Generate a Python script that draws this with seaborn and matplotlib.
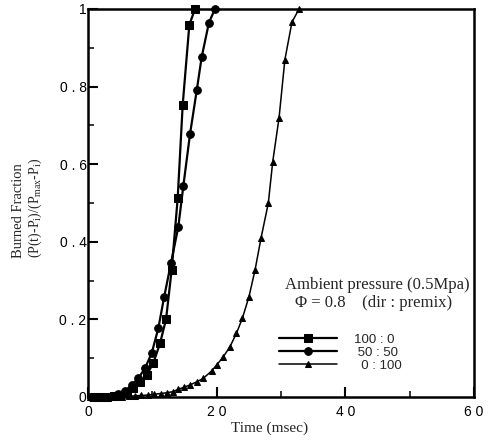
import matplotlib
matplotlib.use("Agg")
import matplotlib.pyplot as plt
from matplotlib.ticker import MultipleLocator, FixedLocator
import seaborn as sns
import pandas as pd

# ---- data ----
t_sq = [0.9, 2.0, 3.0, 4.0, 5.0, 6.0, 7.04, 8.08, 9.12, 10.15, 11.19, 12.13, 13.0, 13.94, 14.72, 15.75, 16.63]
f_sq = [0.0, 0.0, 0.0, 0.002, 0.006, 0.012, 0.022, 0.039, 0.057, 0.087, 0.138, 0.200, 0.327, 0.512, 0.753, 0.959, 1.0]

t_ci = [0.5, 1.6, 2.6, 3.7, 4.7, 5.8, 6.79, 7.82, 8.86, 9.90, 10.93, 11.85, 12.9, 14.04, 14.82, 15.86, 16.9, 17.67, 18.8, 19.74]
f_ci = [0.0, 0.0, 0.001, 0.003, 0.007, 0.016, 0.031, 0.048, 0.074, 0.113, 0.177, 0.259, 0.345, 0.439, 0.544, 0.678, 0.79, 0.876, 0.965, 1.0]

t_tr = [0.3, 1.3, 2.3, 3.3, 4.3, 5.3, 6.3, 7.3, 8.3, 9.3, 10.3, 11.3, 12.3, 13.26, 14.04, 14.92, 15.85, 16.89, 17.92,
        19.2, 19.98, 21.0, 22.05, 23.07, 24.0, 25.03, 25.96, 26.89, 28.03, 28.71, 29.7, 30.6, 31.7, 32.8]
f_tr = [0.0, 0.0, 0.0, 0.0, 0.0, 0.001, 0.002, 0.003, 0.004, 0.005, 0.007, 0.009, 0.011, 0.014, 0.020, 0.025, 0.031, 0.039, 0.048,
        0.067, 0.082, 0.103, 0.129, 0.164, 0.203, 0.259, 0.327, 0.409, 0.50, 0.606, 0.72, 0.869, 0.966, 1.0]

labels = ["100 : 0", " 50 : 50", "  0 : 100"]
x_ticks = [0, 20, 40, 60]
x_ticklabels = ["0", "2 0", "4 0", "6 0"]
y_ticks = [0, 0.2, 0.4, 0.6, 0.8, 1.0]
y_ticklabels = ["0", "0 . 2", "0 . 4", "0 . 6", "0 . 8", "1"]

sns.set_style("ticks")
plt.rcParams["font.family"] = ["Liberation Sans", "DejaVu Sans"]
plt.rcParams["mathtext.fontset"] = "custom"
plt.rcParams["mathtext.rm"] = "Liberation Serif"
plt.rcParams["mathtext.it"] = "Liberation Serif:italic"

fig = plt.figure(figsize=(4.93, 4.42), dpi=100)
ax = fig.add_axes([88/493, 1-397/442, (474-88)/493, (397-9)/442])

df_sq = pd.DataFrame({"t": t_sq, "f": f_sq})
df_ci = pd.DataFrame({"t": t_ci, "f": f_ci})
df_tr = pd.DataFrame({"t": t_tr, "f": f_tr})

sns.lineplot(data=df_sq, x="t", y="f", ax=ax, color="black", lw=1.6, marker="s", markersize=5.5,
             markeredgecolor="black", label=labels[0], clip_on=False, sort=False)
sns.lineplot(data=df_ci, x="t", y="f", ax=ax, color="black", lw=1.6, marker="o", markersize=5.5,
             markeredgecolor="black", label=labels[1], clip_on=False, sort=False)
sns.lineplot(data=df_tr, x="t", y="f", ax=ax, color="black", lw=1.1, marker="^", markersize=4.5,
             markeredgecolor="black", label=labels[2], clip_on=False, sort=False)

ax.set_xlim(0, 60)
ax.set_ylim(0, 1)
ax.xaxis.set_major_locator(FixedLocator(x_ticks))
ax.set_xticklabels(x_ticklabels)
ax.yaxis.set_major_locator(FixedLocator(y_ticks))
ax.set_yticklabels(y_ticklabels)
ax.xaxis.set_minor_locator(MultipleLocator(10))
ax.yaxis.set_minor_locator(MultipleLocator(0.1))
ax.tick_params(which="major", direction="in", length=7, width=1.5, labelsize=10, colors="black")
ax.tick_params(axis="y", which="major", pad=1)
ax.tick_params(axis="x", which="major", pad=6)
ax.tick_params(which="minor", direction="in", length=4, width=1.3)
ax.set_xlabel("")
ax.set_ylabel("")
for s in ax.spines.values():
    s.set_visible(True)
    s.set_linewidth(1.8)
    s.set_color("black")

# axis labels
fig.text(270/493, 1-428/442, "Time (msec)", family="Liberation Serif", fontsize=11, ha="center", va="center")
fig.text(19/493, 1-258/442, "Burned Fraction", family="Liberation Serif", fontsize=10.5,
         rotation=90, ha="center", va="bottom")
fig.text(35/493, 1-258/442, r"(P(t)-P$_\mathregular{i}$)/(P$_\mathregular{max}$-P$_\mathregular{i}$)",
         family="Liberation Serif", fontsize=10, rotation=90, ha="center", va="bottom")

# legend title lines
fig.text(377/493, 1-285/442, "Ambient pressure (0.5Mpa)", family="Liberation Serif", fontsize=12,
         ha="center", va="center")
fig.text(295/493, 1-303/442, "\u03a6 = 0.8    (dir : premix)", family="Liberation Serif", fontsize=12,
         ha="left", va="center")

leg = ax.legend(loc="upper left", bbox_to_anchor=((272-88)/386, (397-327)/388), frameon=False,
                handlelength=4.4, handletextpad=1.3, labelspacing=0.05, fontsize=9.5, borderpad=0)

fig.savefig("out.png", dpi=100)
